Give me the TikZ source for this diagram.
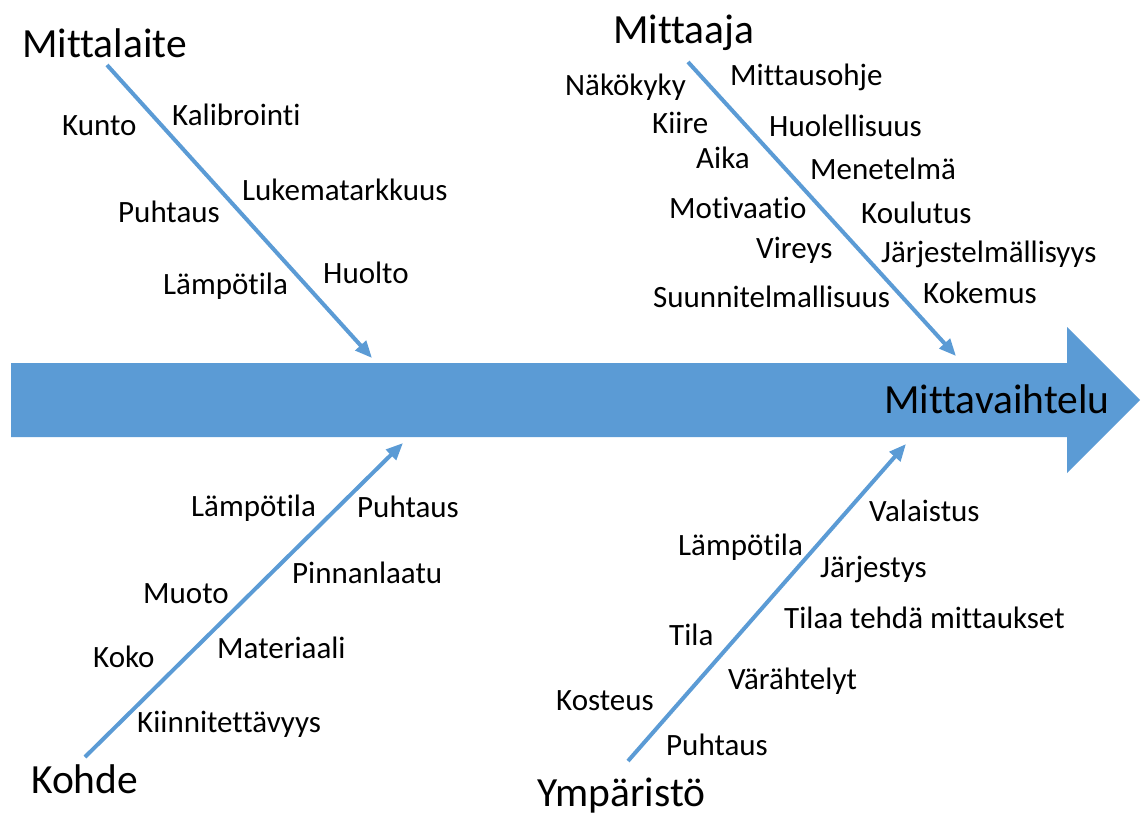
\documentclass[tikz,border=0pt]{standalone}
\usepackage{fontspec}
\setmainfont{Carlito}[Ligatures=NoCommon]
\usetikzlibrary{arrows.meta}
\definecolor{officeblue}{RGB}{91,155,213}
\tikzset{
  bone/.style={draw=officeblue, line width=4pt, -{Triangle[length=17pt,width=14pt]}},
  item/.style={anchor=base west, inner sep=0pt, font=\fontsize{31}{36}\selectfont},
  cat/.style={anchor=base west, inner sep=0pt, font=\fontsize{41.5}{48}\selectfont},
}
\begin{document}
\begin{tikzpicture}[x=1pt,y=-1pt]
\useasboundingbox (0,0) rectangle (1144,812);
% spine
\fill[officeblue] (11,363) -- (1067,363) -- (1067,327) -- (1140,400) -- (1067,473) -- (1067,437) -- (11,437) -- cycle;
\node[cat] (effect) at (884,413) {Mittavaihtelu};
% coordinates
\coordinate (s1) at (107,65);  \coordinate (e1) at (372,358);
\coordinate (s2) at (688,62);  \coordinate (e2) at (956,356);
\coordinate (s3) at (85,757);  \coordinate (e3) at (403,443);
\coordinate (s4) at (628,761); \coordinate (e4) at (906,444);
\draw[bone] (s1) -- (e1);
\draw[bone] (s2) -- (e2);
\draw[bone] (s3) -- (e3);
\draw[bone] (s4) -- (e4);
% categories
\node[cat] (c1) at (22,57) {Mittalaite};
\node[cat] (c2) at (613,43) {Mittaaja};
\node[cat] (c3) at (31,793) {Kohde};
\node[cat] (c4) at (537,806) {Ympäristö};
% Mittalaite
\node[item] (a1) at (62,135) {Kunto};
\node[item] (a2) at (172,125) {Kalibrointi};
\node[item] (a3) at (242,200) {Lukematarkkuus};
\node[item] (a4) at (118,222) {Puhtaus};
\node[item] (a5) at (163,294) {Lämpötila};
\node[item] (a6) at (323,283) {Huolto};
% Mittaaja
\node[item] (b1) at (565,95) {Näkökyky};
\node[item] (b2) at (730,85) {Mittausohje};
\node[item] (b3) at (652,133) {Kiire};
\node[item] (b4) at (769,136) {Huolellisuus};
\node[item] (b5) at (696,168) {Aika};
\node[item] (b6) at (810,179) {Menetelmä};
\node[item] (b7) at (669,218) {Motivaatio};
\node[item] (b8) at (861,223) {Koulutus};
\node[item] (b9) at (756,258) {Vireys};
\node[item] (b10) at (881,262) {Järjestelmällisyys};
\node[item] (b11) at (653,307) {Suunnitelmallisuus};
\node[item] (b12) at (923,303) {Kokemus};
% Kohde
\node[item] (k1) at (191,516) {Lämpötila};
\node[item] (k2) at (357,517) {Puhtaus};
\node[item] (k3) at (292,583) {Pinnanlaatu};
\node[item] (k4) at (143,603) {Muoto};
\node[item] (k5) at (93,667) {Koko};
\node[item] (k6) at (217,658) {Materiaali};
\node[item] (k7) at (137,732) {Kiinnitettävyys};
% Ympäristö
\node[item] (y1) at (869,521) {Valaistus};
\node[item] (y2) at (678,555) {Lämpötila};
\node[item] (y3) at (820,577) {Järjestys};
\node[item] (y4) at (784,628) {Tilaa tehdä mittaukset};
\node[item] (y5) at (669,645) {Tila};
\node[item] (y6) at (728,689) {Värähtelyt};
\node[item] (y7) at (556,710) {Kosteus};
\node[item] (y8) at (666,755) {Puhtaus};
\end{tikzpicture}
\end{document}
